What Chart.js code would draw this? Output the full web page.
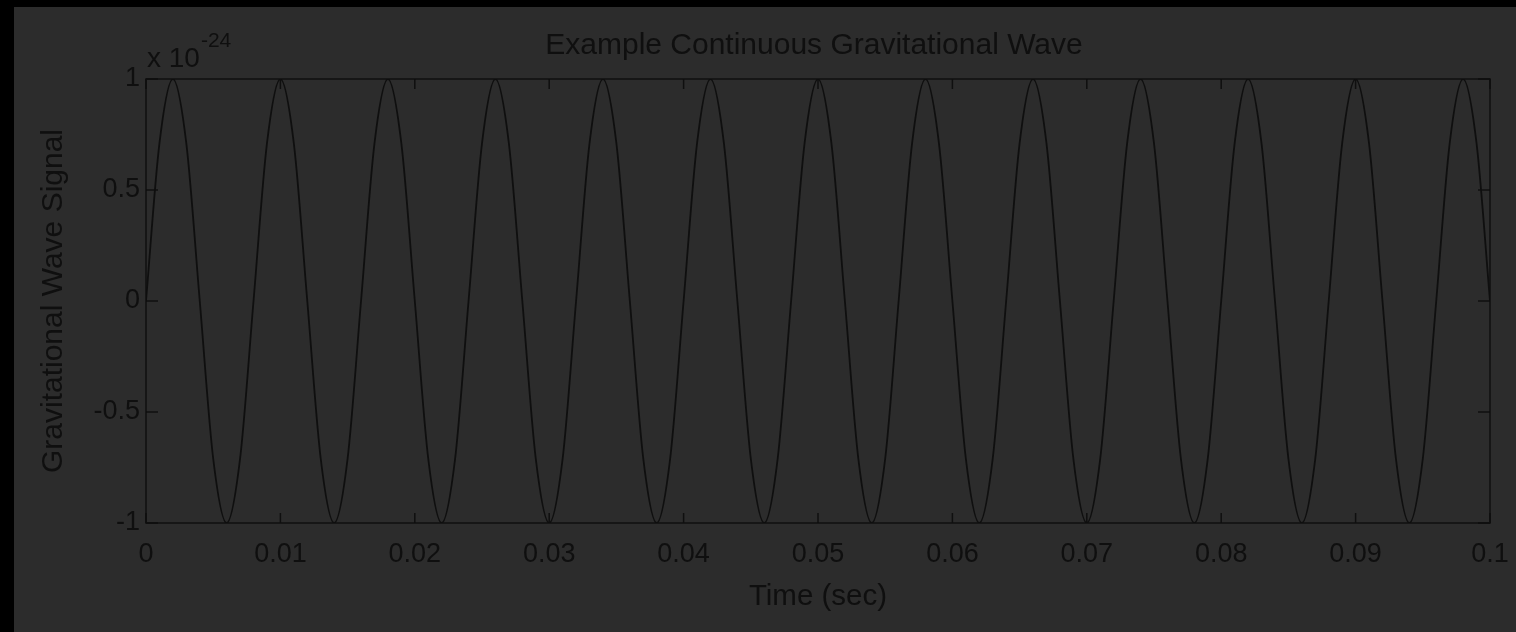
<!DOCTYPE html>
<html>
<head>
<title>Example Continuous Gravitational Wave</title>
<script src="https://cdn.jsdelivr.net/npm/chart.js"></script>
<style>
    body { margin: 0; background: #000; }
    #wrap { position: absolute; left: 14px; top: 7px; width: 1502px; height: 625px; background: #2c2c2c; }
</style>
</head>
<body>
<div id="wrap"><canvas id="chart" width="1502" height="625"></canvas></div>

<script>
    const chartTitle = 'Example Continuous Gravitational Wave';
    const xTitle = 'Time (sec)';
    const yTitle = 'Gravitational Wave Signal';
    const yExponent = '-24';

    // time samples (sec), every 1 ms
    const times = [
        0, 0.001, 0.002, 0.003, 0.004, 0.005, 0.006, 0.007, 0.008, 0.009,
        0.010, 0.011, 0.012, 0.013, 0.014, 0.015, 0.016, 0.017, 0.018, 0.019,
        0.020, 0.021, 0.022, 0.023, 0.024, 0.025, 0.026, 0.027, 0.028, 0.029,
        0.030, 0.031, 0.032, 0.033, 0.034, 0.035, 0.036, 0.037, 0.038, 0.039,
        0.040, 0.041, 0.042, 0.043, 0.044, 0.045, 0.046, 0.047, 0.048, 0.049,
        0.050, 0.051, 0.052, 0.053, 0.054, 0.055, 0.056, 0.057, 0.058, 0.059,
        0.060, 0.061, 0.062, 0.063, 0.064, 0.065, 0.066, 0.067, 0.068, 0.069,
        0.070, 0.071, 0.072, 0.073, 0.074, 0.075, 0.076, 0.077, 0.078, 0.079,
        0.080, 0.081, 0.082, 0.083, 0.084, 0.085, 0.086, 0.087, 0.088, 0.089,
        0.090, 0.091, 0.092, 0.093, 0.094, 0.095, 0.096, 0.097, 0.098, 0.099,
        0.100
    ];

    // signal in units of 1e-24
    const signal = [
        0, 0.71, 1, 0.71, 0, -0.71, -1, -0.71, 0, 0.71,
        1, 0.71, 0, -0.71, -1, -0.71, 0, 0.71, 1, 0.71,
        0, -0.71, -1, -0.71, 0, 0.71, 1, 0.71, 0, -0.71,
        -1, -0.71, 0, 0.71, 1, 0.71, 0, -0.71, -1, -0.71,
        0, 0.71, 1, 0.71, 0, -0.71, -1, -0.71, 0, 0.71,
        1, 0.71, 0, -0.71, -1, -0.71, 0, 0.71, 1, 0.71,
        0, -0.71, -1, -0.71, 0, 0.71, 1, 0.71, 0, -0.71,
        -1, -0.71, 0, 0.71, 1, 0.71, 0, -0.71, -1, -0.71,
        0, 0.71, 1, 0.71, 0, -0.71, -1, -0.71, 0, 0.71,
        1, 0.71, 0, -0.71, -1, -0.71, 0, 0.71, 1, 0.71,
        0
    ];

    const xTickValues = [0, 0.01, 0.02, 0.03, 0.04, 0.05, 0.06, 0.07, 0.08, 0.09, 0.1];
    const xTickLabels = ['0', '0.01', '0.02', '0.03', '0.04', '0.05', '0.06', '0.07', '0.08', '0.09', '0.1'];
    const yTickValues = [-1, -0.5, 0, 0.5, 1];
    const yTickLabels = ['-1', '-0.5', '0', '0.5', '1'];

    const ink = '#0f0f0f';
    const fontFamily = '"Liberation Sans", Arial, Helvetica, sans-serif';
    Chart.defaults.font.family = fontFamily;
    Chart.defaults.color = ink;

    // box around the axes, inward tick marks, title over the axes and the "x 10^-24" multiplier
    const matlabFrame = {
        id: 'matlabFrame',
        afterDatasetsDraw(chart) {
            const ctx = chart.ctx;
            const a = chart.chartArea;
            const xs = chart.scales.x, ys = chart.scales.y;
            ctx.save();
            ctx.strokeStyle = ink;
            ctx.lineWidth = 1.5;
            ctx.strokeRect(a.left, a.top, a.right - a.left, a.bottom - a.top);
            ctx.beginPath();
            xs.ticks.forEach(t => {
                const px = xs.getPixelForValue(t.value);
                ctx.moveTo(px, a.bottom); ctx.lineTo(px, a.bottom - 10);
                ctx.moveTo(px, a.top); ctx.lineTo(px, a.top + 10);
            });
            ys.ticks.forEach(t => {
                const py = ys.getPixelForValue(t.value);
                ctx.moveTo(a.left, py); ctx.lineTo(a.left + 12, py);
                ctx.moveTo(a.right, py); ctx.lineTo(a.right - 12, py);
            });
            ctx.stroke();

            ctx.fillStyle = ink;
            ctx.textBaseline = 'middle';
            ctx.textAlign = 'center';
            ctx.font = '30px ' + fontFamily;
            ctx.fillText(chartTitle, (a.left + a.right) / 2 - 4, a.top - 33);

            ctx.textAlign = 'left';
            ctx.font = '28px ' + fontFamily;
            ctx.fillText('x 10', a.left + 1, a.top - 20);
            const w = ctx.measureText('x 10').width;
            ctx.font = '21px ' + fontFamily;
            ctx.fillText(yExponent, a.left + 2 + w, a.top - 38);
            ctx.restore();
        }
    };

    new Chart(document.getElementById('chart'), {
        type: 'line',
        data: {
            datasets: [{
                data: times.map((t, i) => ({ x: t, y: signal[i] })),
                borderColor: ink,
                borderWidth: 1.8,
                pointRadius: 0,
                fill: false,
                cubicInterpolationMode: 'monotone'
            }]
        },
        options: {
            responsive: false,
            animation: false,
            layout: { padding: { top: 72, right: 26, left: 0, bottom: 0 } },
            plugins: {
                legend: { display: false },
                tooltip: { enabled: false },
                title: { display: false }
            },
            scales: {
                x: {
                    type: 'linear',
                    min: 0,
                    max: 0.1,
                    grid: { display: false, drawTicks: false },
                    border: { display: false },
                    afterBuildTicks: s => { s.ticks = xTickValues.map(v => ({ value: v })); },
                    ticks: {
                        callback: (v, i) => xTickLabels[i],
                        font: { size: 27 },
                        padding: 15,
                        maxRotation: 0,
                        autoSkip: false
                    },
                    title: { display: true, text: xTitle, font: { size: 29.5 }, padding: { top: 0, bottom: 17 } },
                    afterFit: s => { s.height = 109; s.paddingLeft = 0; s.paddingRight = 0; }
                },
                y: {
                    type: 'linear',
                    min: -1,
                    max: 1,
                    grid: { display: false, drawTicks: false },
                    border: { display: false },
                    afterBuildTicks: s => { s.ticks = yTickValues.map(v => ({ value: v })); },
                    ticks: {
                        callback: (v, i) => yTickLabels[i],
                        font: { size: 27 },
                        padding: 6,
                        autoSkip: false
                    },
                    title: { display: true, text: yTitle, font: { size: 30 }, padding: { top: 22, bottom: 0 } },
                    afterFit: s => { s.width = 132; }
                }
            }
        },
        plugins: [matlabFrame]
    });
</script>
</body>
</html>
